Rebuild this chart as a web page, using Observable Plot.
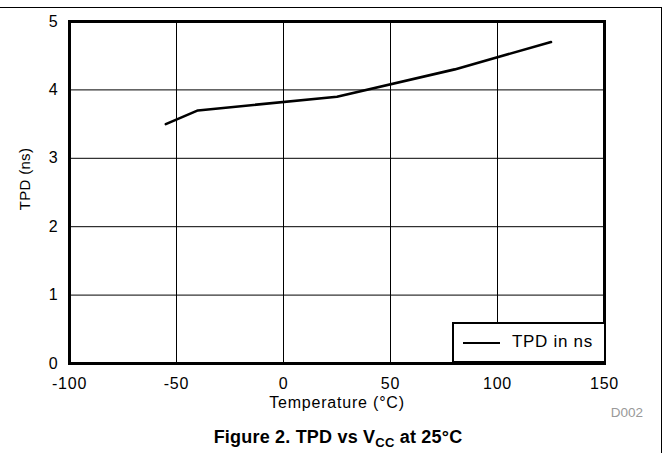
<!DOCTYPE html>
<html><head><meta charset="utf-8">
<script src="https://cdn.jsdelivr.net/npm/d3@7"></script>
<script src="https://cdn.jsdelivr.net/npm/@observablehq/plot@0.6"></script>
<style>
body{margin:0;background:#fff;font-family:"Liberation Sans",Arial,sans-serif;}
#wrap{position:relative;width:665px;height:453px;overflow:hidden;background:#fff;}
#topline{position:absolute;left:0;top:7px;width:662px;height:1px;background:#000;}
#rightline{position:absolute;left:661px;top:7px;width:1px;height:446px;background:#000;}
#chart{position:absolute;left:0;top:0;}
#legend{position:absolute;left:452px;top:322px;width:154px;height:41px;box-sizing:border-box;border:2px solid #000;background:#fff;font-size:17px;letter-spacing:0.7px;}
#legend .sw{position:absolute;left:9px;top:18px;width:37px;height:2px;background:#000;}
#legend .lt{position:absolute;left:58px;top:8px;line-height:20px;}
#ylab{position:absolute;left:25px;top:179px;width:0;height:0;}
#ylab span{position:absolute;left:0;top:0;transform:translate(-50%,-50%) rotate(-90deg);white-space:nowrap;font-size:15px;line-height:18px;letter-spacing:0.3px;}
#d002{position:absolute;right:22px;top:405px;font-size:13.5px;line-height:16px;color:#999;}
#title{position:absolute;left:0;width:676px;top:427px;text-align:center;font-weight:bold;font-size:18px;line-height:20px;letter-spacing:0.2px;}
#title sub{font-size:13px;vertical-align:-4px;line-height:0;}
</style></head>
<body>
<div id="wrap">
  <div id="topline"></div>
  <div id="rightline"></div>
  <div id="chart"></div>
  <div id="legend"><div class="sw"></div><div class="lt">TPD in ns</div></div>
  <div id="ylab"><span>TPD (ns)</span></div>
  <div id="d002">D002</div>
  <div id="title">Figure 2. TPD vs V<sub>CC</sub> at 25°C</div>
</div>
<script>
const temps = [-55, -40, 25, 80, 125];
const tpd = [3.5, 3.7, 3.9, 4.3, 4.7];
const xTicks = [-100, -50, 0, 50, 100, 150];
const yTicks = [0, 1, 2, 3, 4, 5];
const seriesName = "TPD in ns";

const data = temps.map((t, i) => ({t, v: tpd[i]}));
const fmt = d => String(d);

const chart = Plot.plot({
  width: 665,
  height: 420,
  marginLeft: 69,
  marginRight: 61,
  marginTop: 21,
  marginBottom: 57,
  style: {fontFamily: '"Liberation Sans", Arial, sans-serif', fontSize: "16px", color: "#000", background: "transparent", letterSpacing: "0.8px"},
  x: {domain: [-100, 150]},
  y: {domain: [0, 5]},
  marks: [
    Plot.gridX(xTicks, {stroke: "#000", strokeOpacity: 1, strokeWidth: 1}),
    Plot.gridY(yTicks, {stroke: "#000", strokeOpacity: 1, strokeWidth: 1}),
    Plot.line(data, {x: "t", y: "v", stroke: "#000", strokeWidth: 2.6}),
    Plot.frame({stroke: "#000", strokeWidth: 3}),
    Plot.axisX({ticks: xTicks, tickFormat: fmt, tickSize: 0, tickPadding: 14, fontSize: 16, label: "Temperature (°C)", labelAnchor: "center", labelArrow: "none", labelOffset: 44}),
    Plot.axisY({ticks: yTicks, tickFormat: fmt, tickSize: 0, tickPadding: 11, fontSize: 16, label: null})
  ]
});
document.getElementById("chart").appendChild(chart);
</script>
</body></html>
